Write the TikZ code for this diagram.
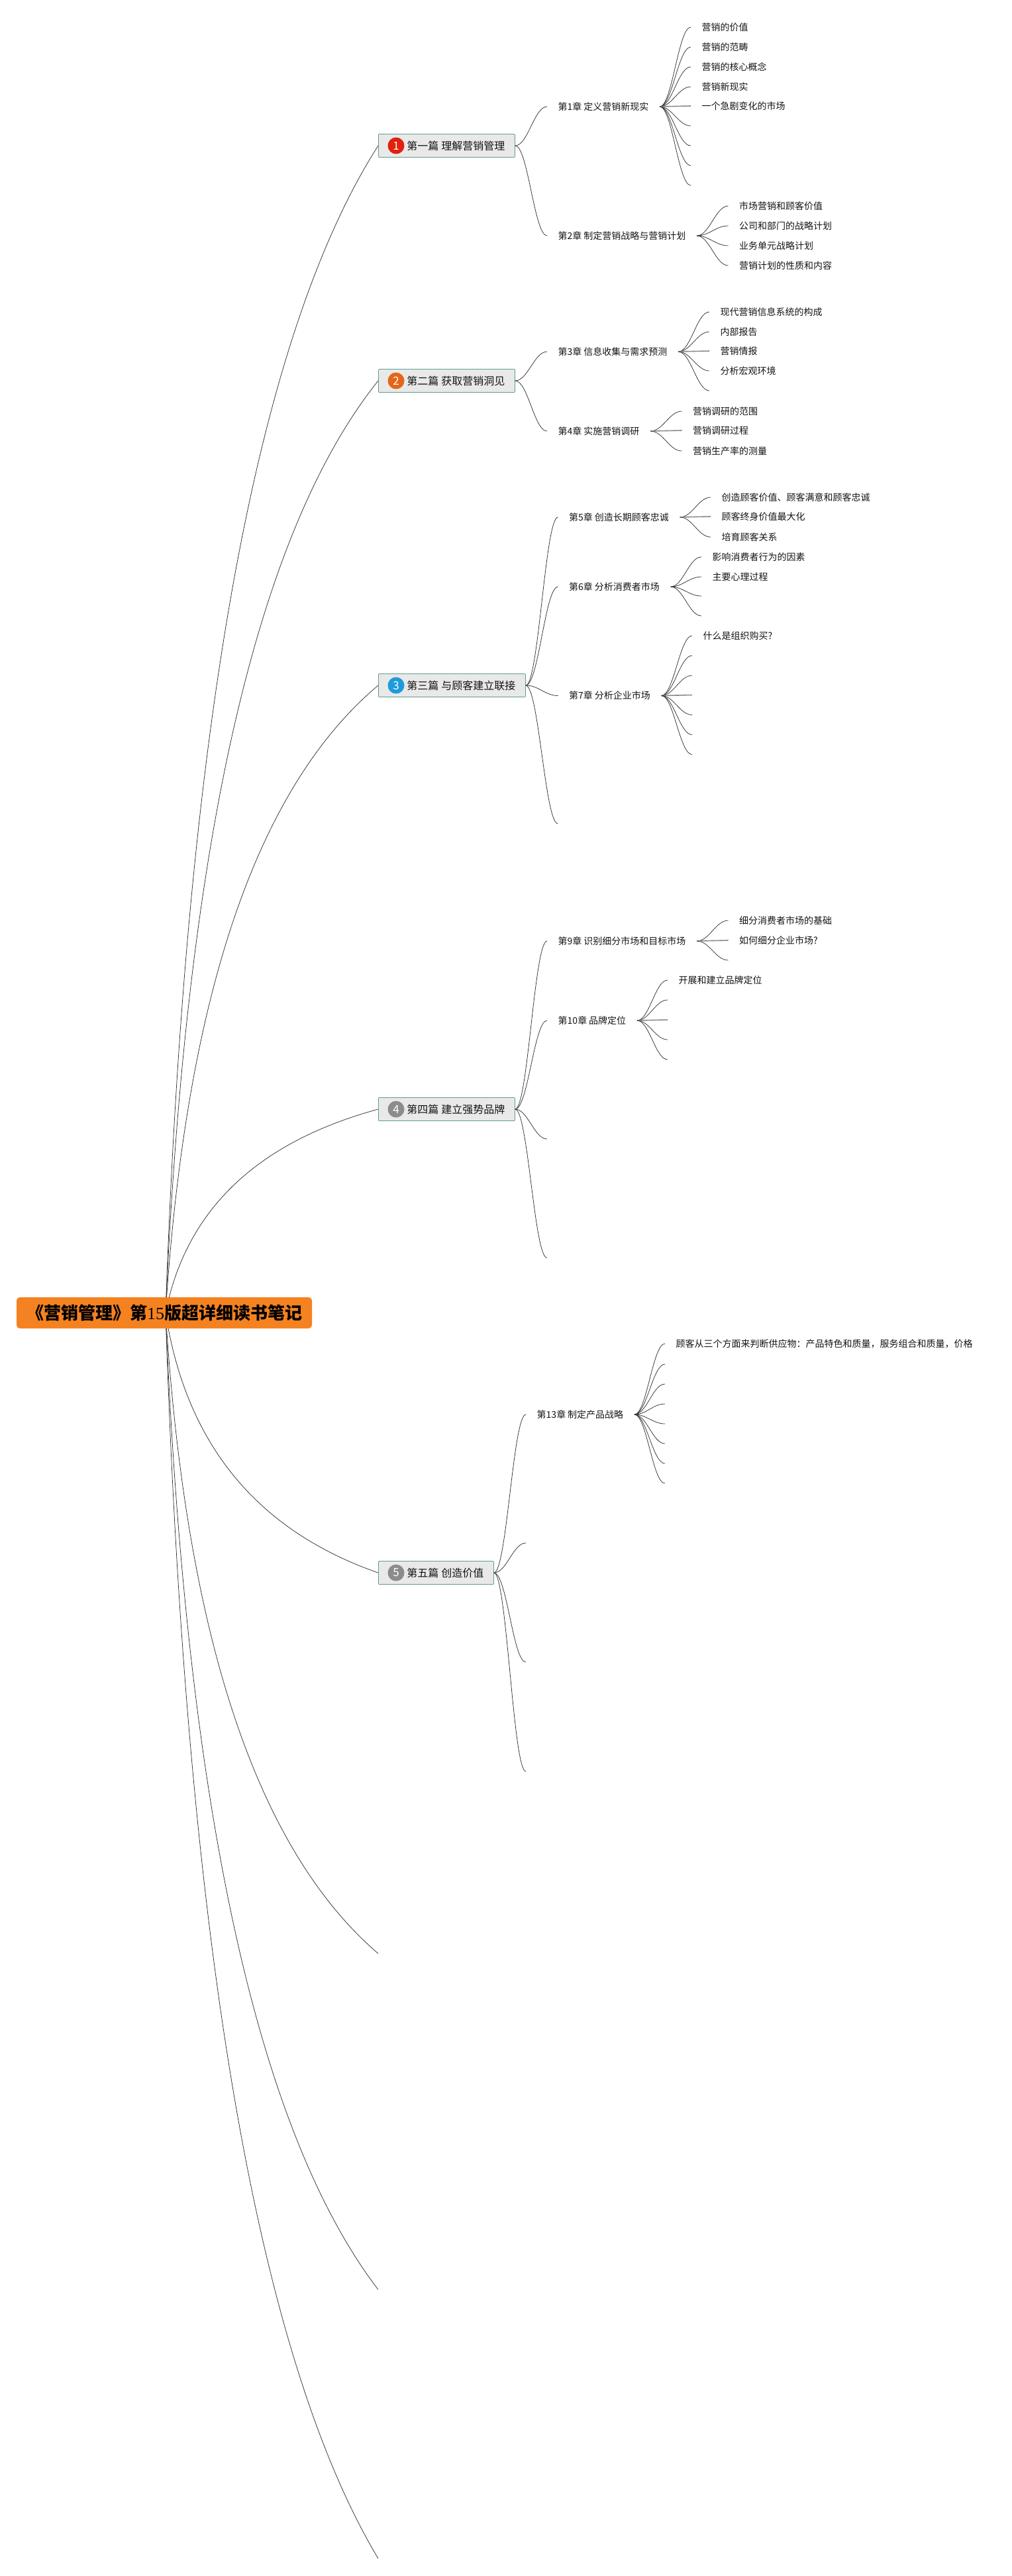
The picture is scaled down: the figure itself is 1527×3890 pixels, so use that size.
\documentclass[tikz,border=0pt]{standalone}
\usepackage{fontspec}
\setmainfont{Noto Sans CJK SC}
\newfontfamily\numfont{Liberation Serif}
\usetikzlibrary{calc,backgrounds}
\definecolor{linkc}{HTML}{333333}
\definecolor{straightc}{HTML}{8A8A8A}
\definecolor{rootc}{HTML}{F58220}
\definecolor{boxf}{HTML}{E9E9E9}
\definecolor{boxd}{HTML}{5F9E8E}
\definecolor{txtc}{HTML}{141414}
\definecolor{ballA}{HTML}{E0210F}
\definecolor{ballB}{HTML}{E4661A}
\definecolor{ballC}{HTML}{1E9BDC}
\definecolor{ballD}{HTML}{8C8C8C}
\tikzset{
  link/.style={draw=linkc,line width=0.75pt},
  straightlink/.style={draw=straightc,line width=1.6pt},
  rootbox/.style={fill=rootc,rounded corners=5pt,minimum width=446pt,minimum height=47pt,inner sep=0pt,
    font=\fontsize{26}{26}\selectfont\bfseries,text=black},
  partbox/.style={anchor=west,draw=boxd,fill=boxf,line width=0.8pt,rounded corners=1pt,minimum height=35pt,
    inner xsep=15pt,inner ysep=0pt,font=\fontsize{16}{16}\selectfont,text=txtc},
  ball/.style={circle,minimum size=25pt,inner sep=0pt,text=white,font=\fontsize{17}{17}\selectfont},
  chapter/.style={anchor=west,inner xsep=16.5pt,inner ysep=0pt,text height=12pt,text depth=2pt,yshift=-1pt,
    font=\fontsize{14}{14}\selectfont,text=txtc},
  leaf/.style={anchor=west,inner xsep=16.5pt,inner ysep=0pt,text height=12pt,text depth=2pt,
    font=\fontsize{14}{14}\selectfont,text=txtc},
}
\newcommand\lnk[2]{\draw[link] (#1) .. controls ($(#1)!0.4!(#1 -| #2)$) and ($(#2)!0.4!(#2 -| #1)$) .. (#2);}
\newcommand\hlnk[2]{\draw[straightlink] (#1) -- (#2);}
\newcommand\trunk[2]{\coordinate (qq) at (296,#2);
  \draw[link] (rootstart) .. controls ($(rootstart)!0.667!(qq)$) and ($(#1)!0.667!(qq)$) .. (#1);}
\begin{document}
\begin{tikzpicture}[x=1pt,y=-1pt]
\useasboundingbox (0,0) rectangle (1527,3890);
% root
\node[rootbox] (root) at (248,1982.5) {《营销管理》第{\numfont\mdseries 15}版超详细读书笔记};
\coordinate (rootstart) at (250,1982.5);
% parts
\node[partbox] (b1) at (571,220) {\hspace*{28pt}第一篇\hspace{4pt}理解营销管理};
\node[ball,fill=ballA] (i1) at ([xshift=27pt]b1.west) {1};
\node[partbox] (b2) at (571,575) {\hspace*{28pt}第二篇\hspace{4pt}获取营销洞见};
\node[ball,fill=ballB] (i2) at ([xshift=27pt]b2.west) {2};
\node[partbox] (b3) at (571,1035) {\hspace*{28pt}第三篇\hspace{4pt}与顾客建立联接};
\node[ball,fill=ballC] (i3) at ([xshift=27pt]b3.west) {3};
\node[partbox] (b4) at (571,1675) {\hspace*{28pt}第四篇\hspace{4pt}建立强势品牌};
\node[ball,fill=ballD] (i4) at ([xshift=27pt]b4.west) {4};
\node[partbox] (b5) at (571,2375) {\hspace*{28pt}第五篇\hspace{4pt}创造价值};
\node[ball,fill=ballD] (i5) at ([xshift=27pt]b5.west) {5};
% free ends of the three empty parts
\coordinate (b6) at (571,2950);
\coordinate (b7) at (571,3457.5);
\coordinate (b8) at (571,3863.5);
% chapters
\node[chapter] (c1) at (826,160) {第1章\hspace{3pt}定义营销新现实};
\node[chapter] (c2) at (826,355) {第2章\hspace{3pt}制定营销战略与营销计划};
\node[chapter] (c3) at (826,530) {第3章\hspace{3pt}信息收集与需求预测};
\node[chapter] (c4) at (826,650) {第4章\hspace{3pt}实施营销调研};
\node[chapter] (c5) at (842.5,780) {第5章\hspace{3pt}创造长期顾客忠诚};
\node[chapter] (c6) at (842.5,885) {第6章\hspace{3pt}分析消费者市场};
\node[chapter] (c7) at (842.5,1049.5) {第7章\hspace{3pt}分析企业市场};
\coordinate (c8) at (842.5,1244);
\node[chapter] (c9) at (826,1420) {第9章\hspace{3pt}识别细分市场和目标市场};
\node[chapter] (c10) at (826,1540) {第10章\hspace{3pt}品牌定位};
\coordinate (c11) at (826,1720);
\coordinate (c12) at (826,1899.5);
\node[chapter] (c13) at (794,2135) {第13章\hspace{3pt}制定产品战略};
\coordinate (c14) at (794,2330);
\coordinate (c15) at (794,2510);
\coordinate (c16) at (794,2675);
% leaves of chapter 1
\node[leaf] (a1) at (1043,41) {营销的价值};
\node[leaf] (a2) at (1043,71) {营销的范畴};
\node[leaf] (a3) at (1043,101) {营销的核心概念};
\node[leaf] (a4) at (1043,131) {营销新现实};
\node[leaf] (a5) at (1043,160) {一个急剧变化的市场};
\coordinate (a6) at (1043,190);
\coordinate (a7) at (1043,220);
\coordinate (a8) at (1043,250);
\coordinate (a9) at (1043,280);
% chapter 2
\node[leaf] (d1) at (1099.5,311) {市场营销和顾客价值};
\node[leaf] (d2) at (1099.5,341) {公司和部门的战略计划};
\node[leaf] (d3) at (1099.5,371) {业务单元战略计划};
\node[leaf] (d4) at (1099.5,401) {营销计划的性质和内容};
% chapter 3
\node[leaf] (e1) at (1071,471) {现代营销信息系统的构成};
\node[leaf] (e2) at (1071,501) {内部报告};
\node[leaf] (e3) at (1071,530) {营销情报};
\node[leaf] (e4) at (1071,560) {分析宏观环境};
\coordinate (e5) at (1071,590);
% chapter 4
\node[leaf] (f1) at (1029.5,621) {营销调研的范围};
\node[leaf] (f2) at (1029.5,650) {营销调研过程};
\node[leaf] (f3) at (1029.5,681) {营销生产率的测量};
% chapter 5
\node[leaf] (g1) at (1073,751) {创造顾客价值、顾客满意和顾客忠诚};
\node[leaf] (g2) at (1073,780) {顾客终身价值最大化};
\node[leaf] (g3) at (1073,811) {培育顾客关系};
% chapter 6
\node[leaf] (h1) at (1059,841) {影响消费者行为的因素};
\node[leaf] (h2) at (1059,871) {主要心理过程};
\coordinate (h3) at (1059,900);
\coordinate (h4) at (1059,930);
% chapter 7
\node[leaf] (k1) at (1045,960) {什么是组织购买?};
\coordinate (k2) at (1045,990);
\coordinate (k3) at (1045,1020);
\coordinate (k4) at (1045,1049.5);
\coordinate (k5) at (1045,1079.5);
\coordinate (k6) at (1045,1109.5);
\coordinate (k7) at (1045,1139.5);
% chapter 9
\node[leaf] (m1) at (1099.5,1390) {细分消费者市场的基础};
\node[leaf] (m2) at (1099.5,1420) {如何细分企业市场?};
\coordinate (m3) at (1099.5,1450);
% chapter 10
\node[leaf] (n1) at (1008,1480) {开展和建立品牌定位};
\coordinate (n2) at (1008,1510);
\coordinate (n3) at (1008,1540);
\coordinate (n4) at (1008,1570);
\coordinate (n5) at (1008,1600);
% chapter 13
\node[leaf] (p1) at (1004,2029) {顾客从三个方面来判断供应物：产品特色和质量，服务组合和质量，价格};
\coordinate (p2) at (1004,2060);
\coordinate (p3) at (1004,2090);
\coordinate (p4) at (1004,2120);
\coordinate (p5) at (1004,2150);
\coordinate (p6) at (1004,2180);
\coordinate (p7) at (1004,2210);
\coordinate (p8) at (1004,2240);
\begin{scope}[on background layer]
\trunk{b1.west}{650}
\trunk{b2.west}{918}
\trunk{b3.west}{1266}
\trunk{b4.west}{1750}
\trunk{b5.west}{2279}
\trunk{b6}{2714}
\trunk{b7}{3097}
\trunk{b8}{3404}
\end{scope}
\lnk{b1.east}{c1.west}\lnk{b1.east}{c2.west}
\lnk{b2.east}{c3.west}\lnk{b2.east}{c4.west}
\lnk{b3.east}{c5.west}\lnk{b3.east}{c6.west}\lnk{b3.east}{c7.west}\lnk{b3.east}{c8}
\lnk{b4.east}{c9.west}\lnk{b4.east}{c10.west}\lnk{b4.east}{c11}\lnk{b4.east}{c12}
\lnk{b5.east}{c13.west}\lnk{b5.east}{c14}\lnk{b5.east}{c15}\lnk{b5.east}{c16}
\lnk{c1.east}{a1.west}\lnk{c1.east}{a2.west}\lnk{c1.east}{a3.west}\lnk{c1.east}{a4.west}
\hlnk{c1.east}{a5.west}
\lnk{c1.east}{a6}\lnk{c1.east}{a7}\lnk{c1.east}{a8}\lnk{c1.east}{a9}
\lnk{c2.east}{d1.west}\lnk{c2.east}{d2.west}\lnk{c2.east}{d3.west}\lnk{c2.east}{d4.west}
\lnk{c3.east}{e1.west}\lnk{c3.east}{e2.west}\hlnk{c3.east}{e3.west}\lnk{c3.east}{e4.west}\lnk{c3.east}{e5}
\lnk{c4.east}{f1.west}\hlnk{c4.east}{f2.west}\lnk{c4.east}{f3.west}
\lnk{c5.east}{g1.west}\hlnk{c5.east}{g2.west}\lnk{c5.east}{g3.west}
\lnk{c6.east}{h1.west}\lnk{c6.east}{h2.west}\lnk{c6.east}{h3}\lnk{c6.east}{h4}
\lnk{c7.east}{k1.west}\lnk{c7.east}{k2}\lnk{c7.east}{k3}\hlnk{c7.east}{k4}\lnk{c7.east}{k5}\lnk{c7.east}{k6}\lnk{c7.east}{k7}
\lnk{c9.east}{m1.west}\hlnk{c9.east}{m2.west}\lnk{c9.east}{m3}
\lnk{c10.east}{n1.west}\lnk{c10.east}{n2}\hlnk{c10.east}{n3}\lnk{c10.east}{n4}\lnk{c10.east}{n5}
\lnk{c13.east}{p1.west}\lnk{c13.east}{p2}\lnk{c13.east}{p3}\lnk{c13.east}{p4}\lnk{c13.east}{p5}\lnk{c13.east}{p6}\lnk{c13.east}{p7}\lnk{c13.east}{p8}
\end{tikzpicture}
\end{document}
